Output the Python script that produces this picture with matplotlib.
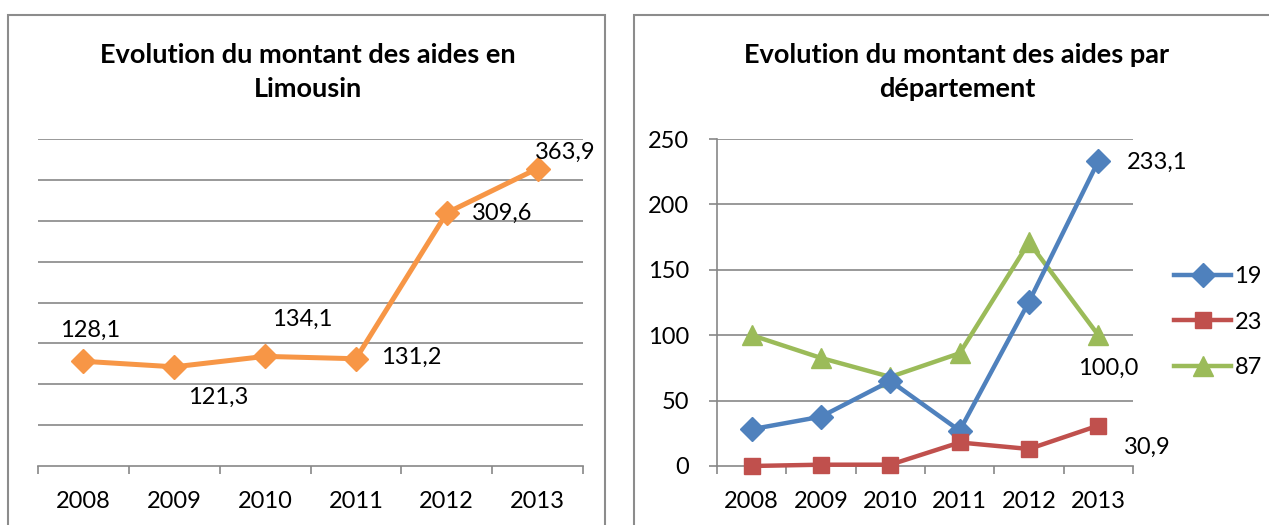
import matplotlib.pyplot as plt
from matplotlib.patches import Rectangle

# data
years = ['2008', '2009', '2010', '2011', '2012', '2013']
limousin = [128.1, 121.3, 134.1, 131.2, 309.6, 363.9]
limousin_labels = ['128,1', '121,3', '134,1', '131,2', '309,6', '363,9']

dep_19 = [28.1, 37.7, 65.0, 27.0, 125.6, 233.1]
dep_23 = [0.0, 1.0, 1.0, 18.0, 13.0, 30.9]
dep_87 = [100.0, 82.6, 68.1, 86.2, 171.0, 100.0]

W, H = 1269, 525
FONT = 'Lato'
FS = 17
grid_col = '#878787'
border_col = '#8c8c8c'


def px_rect(x0, y_top, x1, y_bot):
    # pixel box -> figure fraction
    return [x0 / W, 1 - y_bot / H, (x1 - x0) / W, (y_bot - y_top) / H]


def style_axes(ax, ymax, step):
    n = len(years)
    xs = [i + 0.5 for i in range(n)]
    ax.set_xlim(0, n)
    ax.set_ylim(0, ymax)
    for s in ['top', 'right', 'left']:
        ax.spines[s].set_visible(False)
    ax.spines['bottom'].set_color(grid_col)
    ax.spines['bottom'].set_linewidth(1.2)
    ax.set_xticks(range(n + 1))
    ax.set_xticklabels([])
    ax.set_xticks(xs, minor=True)
    ax.set_xticklabels(years, minor=True, fontsize=FS, fontname=FONT)
    ax.tick_params(axis='x', which='major', length=6, width=1.2, color=grid_col)
    ax.tick_params(axis='x', which='minor', length=0, pad=18)
    for v in range(step, ymax + 1, step):
        ax.axhline(v, color=grid_col, lw=1.2, zorder=0)
    return xs


fig = plt.figure(figsize=(W / 100, H / 100), dpi=100)

# panel borders
fig.add_artist(Rectangle((8 / W, -0.05), (605 - 8) / W, 1.05 - 15 / H,
                         transform=fig.transFigure, fill=False,
                         edgecolor=border_col, lw=1.5))
fig.add_artist(Rectangle((634 / W, -0.05), 0.6, 1.05 - 15 / H,
                         transform=fig.transFigure, fill=False,
                         edgecolor=border_col, lw=1.5))

# ---- left chart ----
ax1 = fig.add_axes(px_rect(38, 139, 583, 466))
xs = style_axes(ax1, 400, 50)
ax1.set_yticks([])
ax1.plot(xs, limousin, color='#F79646', lw=3.6, marker='D', markersize=12,
         zorder=3, clip_on=False)
offs1 = [(5, 22), (32, -22), (27, 27), (40, 1), (40, 0), (20, 12)]
for x, v, lab, o in zip(xs, limousin, limousin_labels, offs1):
    ax1.annotate(lab, (x, v), xytext=o, textcoords='offset points',
                 ha='center', va='center', fontsize=FS, fontname=FONT)
fig.text(308 / W, 1 - 55 / H, 'Evolution du montant des aides en',
         ha='center', va='center', fontsize=19.5, fontweight='bold', fontname=FONT)
fig.text(308 / W, 1 - 89 / H, 'Limousin',
         ha='center', va='center', fontsize=19.5, fontweight='bold', fontname=FONT)

# ---- right chart ----
ax2 = fig.add_axes(px_rect(717, 139, 1133, 466))
xs = style_axes(ax2, 250, 50)
ax2.spines['left'].set_visible(True)
ax2.spines['left'].set_color(grid_col)
ax2.spines['left'].set_linewidth(1.2)
ax2.set_yticks(range(0, 251, 50))
ax2.set_yticklabels([str(v) for v in range(0, 251, 50)], fontsize=FS, fontname=FONT)
ax2.tick_params(axis='y', length=6, width=1.2, color=grid_col, pad=14)

ax2.plot(xs, dep_19, color='#4F81BD', lw=3.2, marker='D', markersize=12,
         label='19', zorder=3, clip_on=False)
ax2.plot(xs, dep_23, color='#C0504D', lw=3.2, marker='s', markersize=12,
         label='23', zorder=4, clip_on=False)
ax2.plot(xs, dep_87, color='#9BBB59', lw=3.2, marker='^', markersize=14,
         label='87', zorder=2, clip_on=False)

ax2.annotate('233,1', (xs[-1], dep_19[-1]), xytext=(42, -1), textcoords='offset points',
             ha='center', va='center', fontsize=FS, fontname=FONT)
ax2.annotate('30,9', (xs[-1], dep_23[-1]), xytext=(35, -16), textcoords='offset points',
             ha='center', va='center', fontsize=FS, fontname=FONT)
ax2.annotate('100,0', (xs[-1], dep_87[-1]), xytext=(7, -24), textcoords='offset points',
             ha='center', va='center', fontsize=FS, fontname=FONT)

ax2.legend(loc='center left', bbox_to_anchor=(1.099, 0.44), frameon=False,
           prop={'family': FONT, 'size': FS}, handlelength=2.4,
           handletextpad=0.15, labelspacing=1.05, borderpad=0, borderaxespad=0)

fig.text(957 / W, 1 - 55 / H, 'Evolution du montant des aides par',
         ha='center', va='center', fontsize=19.5, fontweight='bold', fontname=FONT)
fig.text(957 / W, 1 - 89 / H, 'département',
         ha='center', va='center', fontsize=19.5, fontweight='bold', fontname=FONT)

plt.savefig('out.png', dpi=100)
